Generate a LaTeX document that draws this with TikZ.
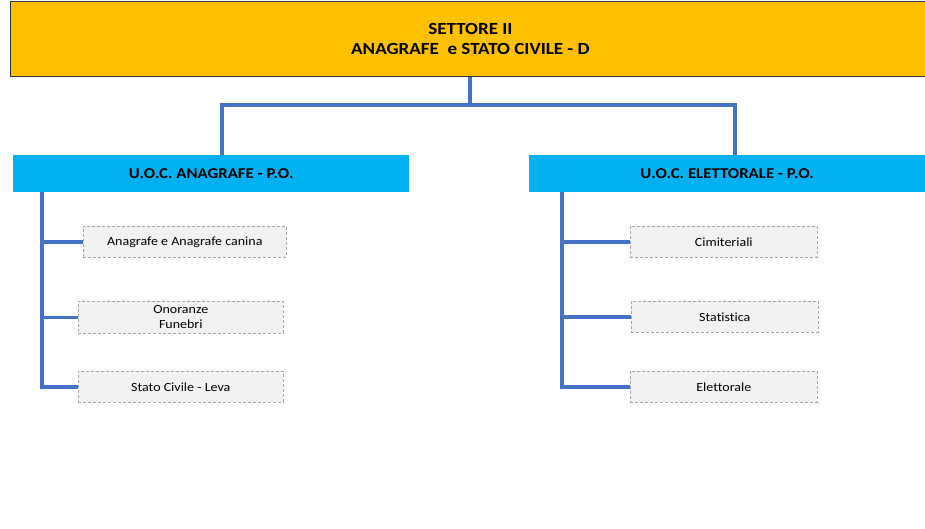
\documentclass[tikz,border=0pt]{standalone}
\usepackage{fontspec}
\setmainfont{Carlito}[FakeStretch=1.12,Ligatures={NoCommon}]
\definecolor{topor}{HTML}{FFC000}
\definecolor{uocblue}{HTML}{00B0F0}
\definecolor{linkblue}{HTML}{4472C4}
\definecolor{boxfill}{HTML}{F2F2F2}
\begin{document}
\begin{tikzpicture}[x=1pt,y=-1pt,
  topbox/.style={draw=black!80, line width=0.8pt, fill=topor, inner sep=0pt, font=\bfseries\fontsize{17}{20}\selectfont, align=center},
  uocbox/.style={fill=uocblue, inner sep=0pt, font=\bfseries\fontsize{15}{18}\selectfont, align=center},
  subbox/.style={draw=gray!70, densely dashed, line width=0.6pt, fill=boxfill, inner sep=0pt, font=\fontsize{12.5}{15}\selectfont, align=center},
  link/.style={draw=linkblue, line width=3.5pt}
]
\useasboundingbox (0,0) rectangle (925,528);
\fill[white] (0,0) rectangle (925,528);
\node[topbox, minimum width=920pt, minimum height=75pt, anchor=north west] (top) at (10,1) {SETTORE II\\ANAGRAFE\ \ e STATO CIVILE - D};
\node[uocbox, minimum width=396pt, minimum height=37pt, anchor=north west] (uocA) at (13,155) {U.O.C. ANAGRAFE - P.O.};
\node[uocbox, minimum width=396pt, minimum height=37pt, anchor=north west] (uocE) at (529,155) {U.O.C. ELETTORALE - P.O.};
\node[subbox, minimum width=203pt, minimum height=31pt, anchor=north west] (a1) at (83,226) {Anagrafe e Anagrafe canina};
\node[subbox, minimum width=205pt, minimum height=32pt, anchor=north west] (a2) at (78,301) {Onoranze\\Funebri};
\node[subbox, minimum width=205pt, minimum height=31pt, anchor=north west] (a3) at (78,371) {Stato Civile - Leva};
\node[subbox, minimum width=187pt, minimum height=31pt, anchor=north west] (e1) at (630,226) {Cimiteriali};
\node[subbox, minimum width=187pt, minimum height=31pt, anchor=north west] (e2) at (631,301) {Statistica};
\node[subbox, minimum width=187pt, minimum height=31pt, anchor=north west] (e3) at (630,371) {Elettorale};
\coordinate (hub) at (470,105);
\path[link] (top.south -| hub) -- (hub);
\path[link] (uocA.north -| 222,0) |- (hub) -| (uocE.north -| 735,0);
\coordinate (la) at (42,192);
\coordinate (le) at (562,192);
\path[link] (la) |- (a3.west);
\path[link] (la |- a1.west) -- (a1.west);
\path[link] (la |- a2.west) -- (a2.west);
\path[link] (le) |- (e3.west);
\path[link] (le |- e1.west) -- (e1.west);
\path[link] (le |- e2.west) -- (e2.west);
\end{tikzpicture}
\end{document}
